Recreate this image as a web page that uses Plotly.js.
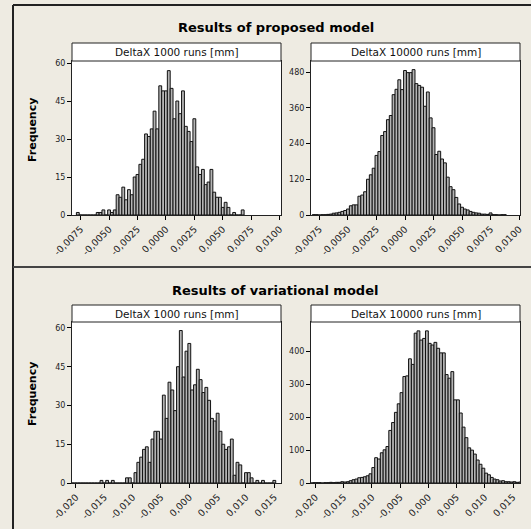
<!DOCTYPE html>
<html>
<head>
<meta charset="utf-8">
<script src="https://cdn.plot.ly/plotly-3.0.1.min.js"></script>
<style>html,body{margin:0;padding:0;background:#EEEBE2;}#chart{width:531px;height:529px;}</style>
</head>
<body>
<div id="chart"></div>
<script>
// ---------- data ----------
// Proposed model, 1000 runs (bin width 0.00025, first bin centre -0.00775)
const p1Start = -0.00775, p1Width = 0.00025;
const p1Counts = [1,0,0,0,0,0,0,1,1,2,0,2,1,2,8,7,11,6,10,8,15,16,20,22,32,31,34,41,34,51,49,49,57,50,38,45,40,49,35,33,29,38,19,16,18,12,13,18,9,7,7,3,5,3,0,1,0,0,2];
// Proposed model, 10000 runs (bin width 0.00025, first bin centre -0.008)
const p2Start = -0.008, p2Width = 0.00025;
const p2Counts = [1,1,0,1,1,2,3,6,7,9,12,15,20,31,34,34,63,67,78,120,135,157,200,213,267,280,320,334,404,422,454,421,485,478,478,488,441,435,429,365,413,326,293,203,214,188,175,127,95,85,59,37,26,20,17,12,9,7,6,3,3,2,7,1,1,0,1,1];
// Variational model, 1000 runs (bin width 0.0005, first bin centre -0.0205)
const p3Start = -0.0205, p3Width = 0.0005;
const p3Counts = [0,0,0,0,0,0,0,0,0,0,1,0,1,0,1,0,0,0,0,2,2,0,4,8,10,13,14,8,17,20,20,17,34,25,39,36,28,45,59,41,51,54,36,38,44,40,35,37,32,25,24,27,20,15,13,14,17,3,8,7,0,4,4,2,0,1,0,1,0,0,0,1];
// Variational model, 10000 runs (bin width 0.0005, first bin centre -0.02075)
const p4Start = -0.02075, p4Width = 0.0005;
const p4Counts = [0,1,1,1,0,1,1,2,1,2,2,4,3,4,7,10,12,16,17,19,22,28,47,77,73,92,101,111,160,184,215,241,275,324,326,378,361,456,463,435,440,463,425,420,428,410,396,396,330,319,339,253,253,213,170,138,107,100,88,70,57,45,30,25,17,12,10,6,7,4,4,3,4,2,3];

const topTickVals = [-0.0075,-0.005,-0.0025,0,0.0025,0.005,0.0075,0.01];
const topTickText = ["-0,0075","-0,0050","-0,0025","0,0000","0,0025","0,0050","0,0075","0,0100"];
const botTickVals = [-0.02,-0.015,-0.01,-0.005,0,0.005,0.01,0.015];
const botTickText = ["-0,020","-0,015","-0,010","-0,005","0,000","0,005","0,010","0,015"];
const yTicks1 = [0,15,30,45,60];
const yTicks2 = [0,120,240,360,480];
const yTicks3 = [0,15,30,45,60];
const yTicks4 = [0,100,200,300,400];

const titles = ["Results of proposed model","Results of variational model"];
const panelHeads = ["DeltaX 1000 runs [mm]","DeltaX 10000 runs [mm]","DeltaX 1000 runs [mm]","DeltaX 10000 runs [mm]"];
const yLabel = "Frequency";

// ---------- helpers ----------
const W = 531, H = 529;
const px = v => v / W;
const py = v => 1 - v / H;
function centres(start, width, counts){ return counts.map((_, i) => start + i * width); }

function barTrace(start, width, counts, xa, ya){
  return {type:'bar', x: centres(start,width,counts), y: counts, width: width,
    xaxis: xa, yaxis: ya,
    marker:{color:'#b4b4b4', line:{color:'#111111', width:1}},
    hoverinfo:'x+y', showlegend:false};
}

const data = [
  barTrace(p1Start,p1Width,p1Counts,'x','y'),
  barTrace(p2Start,p2Width,p2Counts,'x2','y2'),
  barTrace(p3Start,p3Width,p3Counts,'x3','y3'),
  barTrace(p4Start,p4Width,p4Counts,'x4','y4')
];

const L = {x0:72, x1:281}, R = {x0:311, x1:520};
const TOP = {y0:61, y1:215, h0:43}, BOT = {y0:322, y1:483, h0:305};

function xaxis(dom, range, vals, text, anchor){
  return {domain:[px(dom.x0), px(dom.x1)], range: range, anchor: anchor,
    tickmode:'array', tickvals: vals, ticktext: text, tickangle:-45,
    ticks:'outside', ticklen:4, tickwidth:1, tickcolor:'#000',
    showline:true, linecolor:'#222', linewidth:1, mirror:true,
    showgrid:false, zeroline:false,
    tickfont:{family:'DejaVu Sans', size:9.5, color:'#222'}, fixedrange:true};
}
function yaxis(dom, range, vals, anchor){
  return {domain:[py(dom.y1), py(dom.y0)], range: range, anchor: anchor,
    tickmode:'array', tickvals: vals,
    ticks:'outside', ticklen:4, tickwidth:1, tickcolor:'#000',
    showline:true, linecolor:'#222', linewidth:1, mirror:true,
    showgrid:false, zeroline:false,
    tickfont:{family:'DejaVu Sans', size:8, color:'#222'}, fixedrange:true};
}

const shapes = [];
const annotations = [];
// outer frame lines
shapes.push({type:'line', xref:'paper', yref:'paper', x0:px(13), x1:1, y0:py(5), y1:py(5), line:{color:'#222', width:2}});
shapes.push({type:'line', xref:'paper', yref:'paper', x0:px(13), x1:px(13), y0:py(5), y1:0, line:{color:'#222', width:2}});
shapes.push({type:'line', xref:'paper', yref:'paper', x0:px(13), x1:1, y0:py(267), y1:py(267), line:{color:'#444', width:2}});

// panel headers
[[L,TOP,0],[R,TOP,1],[L,BOT,2],[R,BOT,3]].forEach(([c,r,i]) => {
  shapes.push({type:'rect', xref:'paper', yref:'paper', x0:px(c.x0), x1:px(c.x1), y0:py(r.y0), y1:py(r.h0),
    fillcolor:'#ffffff', line:{color:'#222', width:1}});
  annotations.push({xref:'paper', yref:'paper', x:px((c.x0+c.x1)/2), y:py((r.y0+r.h0)/2), text:panelHeads[i],
    showarrow:false, xanchor:'center', yanchor:'middle', font:{family:'DejaVu Sans', size:10.5, color:'#111'}});
});
// titles
annotations.push({xref:'paper', yref:'paper', x:px(275.5), y:py(28), text:'<b>'+titles[0]+'</b>', showarrow:false,
  xanchor:'center', yanchor:'middle', font:{family:'DejaVu Sans', size:13, color:'#000'}});
annotations.push({xref:'paper', yref:'paper', x:px(275), y:py(290), text:'<b>'+titles[1]+'</b>', showarrow:false,
  xanchor:'center', yanchor:'middle', font:{family:'DejaVu Sans', size:13, color:'#000'}});
// y labels
annotations.push({xref:'paper', yref:'paper', x:px(32), y:py(130), text:'<b>'+yLabel+'</b>', showarrow:false, textangle:-90,
  xanchor:'center', yanchor:'middle', font:{family:'DejaVu Sans', size:11, color:'#000'}});
annotations.push({xref:'paper', yref:'paper', x:px(32), y:py(394), text:'<b>'+yLabel+'</b>', showarrow:false, textangle:-90,
  xanchor:'center', yanchor:'middle', font:{family:'DejaVu Sans', size:11, color:'#000'}});

const layout = {
  width: W, height: H,
  margin:{l:0, r:0, t:0, b:0, pad:0},
  paper_bgcolor:'#EEEBE2', plot_bgcolor:'#ffffff',
  showlegend:false, bargap:0,
  xaxis:  xaxis(L, [-0.00826, 0.01012], topTickVals, topTickText, 'y'),
  xaxis2: xaxis(R, [-0.00824, 0.01008], topTickVals, topTickText, 'y2'),
  xaxis3: xaxis(L, [-0.0207, 0.01618], botTickVals, botTickText, 'y3'),
  xaxis4: xaxis(R, [-0.02078, 0.01624], botTickVals, botTickText, 'y4'),
  yaxis:  yaxis(TOP, [0, 60.8], yTicks1, 'x'),
  yaxis2: yaxis(TOP, [0, 517], yTicks2, 'x2'),
  yaxis3: yaxis(BOT, [0, 62.3], yTicks3, 'x3'),
  yaxis4: yaxis(BOT, [0, 490], yTicks4, 'x4'),
  shapes: shapes,
  annotations: annotations
};

Plotly.newPlot('chart', data, layout, {displayModeBar:false, staticPlot:true});
</script>
</body>
</html>
